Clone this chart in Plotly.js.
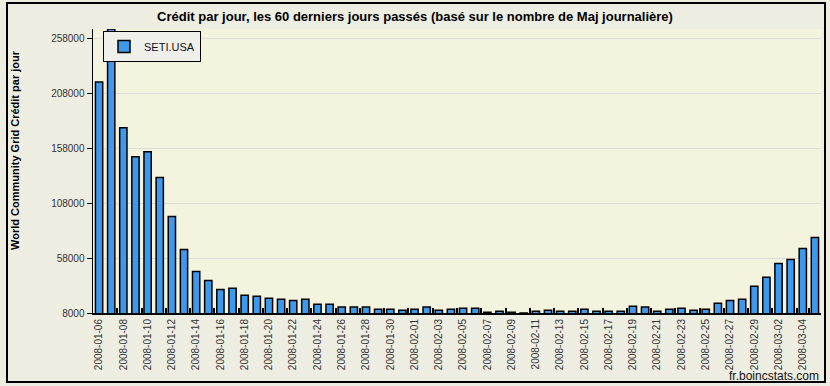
<!DOCTYPE html>
<html>
<head>
<meta charset="utf-8">
<script src="https://cdn.plot.ly/plotly-3.0.1.min.js"></script>
<style>
  html, body { margin: 0; padding: 0; background: #eeede2; }
  #chart { width: 830px; height: 386px; }
</style>
</head>
<body>
<div id="chart"></div>
<script>
// Data
const dates = [
  "2008-01-06","2008-01-07","2008-01-08","2008-01-09","2008-01-10","2008-01-11","2008-01-12","2008-01-13",
  "2008-01-14","2008-01-15","2008-01-16","2008-01-17","2008-01-18","2008-01-19","2008-01-20","2008-01-21",
  "2008-01-22","2008-01-23","2008-01-24","2008-01-25","2008-01-26","2008-01-27","2008-01-28","2008-01-29",
  "2008-01-30","2008-01-31","2008-02-01","2008-02-02","2008-02-03","2008-02-04","2008-02-05","2008-02-06",
  "2008-02-07","2008-02-08","2008-02-09","2008-02-10","2008-02-11","2008-02-12","2008-02-13","2008-02-14",
  "2008-02-15","2008-02-16","2008-02-17","2008-02-18","2008-02-19","2008-02-20","2008-02-21","2008-02-22",
  "2008-02-23","2008-02-24","2008-02-25","2008-02-26","2008-02-27","2008-02-28","2008-02-29","2008-03-01",
  "2008-03-02","2008-03-03","2008-03-04","2008-03-05"
];
const credits = [
  218600, 266800, 176800, 150400, 155000, 131400, 95900, 65900,
  45900, 37700, 29500, 30500, 24100, 23200, 21400, 20500,
  19500, 20500, 15900, 15900, 13400, 13400, 13400, 11400,
  11400, 10500, 11400, 13400, 10500, 11400, 12300, 12300,
  8600, 9500, 8600, 8000, 9500, 10500, 9500, 9500,
  11400, 9500, 9500, 9500, 14100, 13400, 9500, 11400,
  12300, 10500, 11400, 16800, 19500, 20500, 32300, 40500,
  53200, 56800, 66800, 76800
];
const xTickLabels = [
  "2008-01-06","2008-01-08","2008-01-10","2008-01-12","2008-01-14","2008-01-16","2008-01-18","2008-01-20",
  "2008-01-22","2008-01-24","2008-01-26","2008-01-28","2008-01-30","2008-02-01","2008-02-03","2008-02-05",
  "2008-02-07","2008-02-09","2008-02-11","2008-02-13","2008-02-15","2008-02-17","2008-02-19","2008-02-21",
  "2008-02-23","2008-02-25","2008-02-27","2008-02-29","2008-03-02","2008-03-04"
];
const yTickVals = [8000, 58000, 108000, 158000, 208000, 258000];
const seriesName = "SETI.USA";

const font = "Liberation Sans, Arial, sans-serif";

const trace = {
  type: "bar",
  x: dates,
  y: credits,
  base: 0,
  name: seriesName,
  showlegend: true,
  marker: {
    color: "#3d99ee",
    line: { color: "#000000", width: 1.5 }
  },
  hoverinfo: "x+y"
};

const layout = {
  width: 830,
  height: 386,
  margin: { l: 93, r: 9, t: 29, b: 73 },
  paper_bgcolor: "#eeede2",
  plot_bgcolor: "#f4f4de",
  font: { family: font, size: 10, color: "#333333" },
  title: {
    text: "Crédit par jour, les 60 derniers jours passés (basé sur le nombre de Maj journalière)",
    font: { family: font, size: 13, color: "#000000", weight: "bold" },
    x: 0.5, xanchor: "center",
    y: 1 - 16 / 386, yanchor: "middle", yref: "container"
  },
  bargap: 0.4,
  xaxis: {
    type: "category",
    tickmode: "array",
    tickvals: xTickLabels,
    ticktext: xTickLabels,
    tickangle: -90,
    tickson: "boundaries",
    ticks: "inside",
    ticklen: 5,
    tickwidth: 2,
    tickcolor: "#000000",
    showline: true,
    linecolor: "#000000",
    linewidth: 2,
    showgrid: false,
    zeroline: false,
    tickfont: { family: font, size: 10, color: "#333333" },
    range: [-0.5, dates.length - 0.5],
    fixedrange: true
  },
  yaxis: {
    range: [8000, 266800],
    tickmode: "array",
    tickvals: yTickVals,
    ticktext: yTickVals.map(String),
    ticks: "outside",
    ticklen: 5,
    tickcolor: "#000000",
    showline: true,
    linecolor: "#000000",
    linewidth: 1.5,
    showgrid: true,
    gridcolor: "#dcdcd6",
    gridwidth: 1.2,
    zeroline: false,
    tickfont: { family: font, size: 10, color: "#333333" },
    fixedrange: true
  },
  legend: {
    x: 10 / 728, y: (313 - 31) / 284,
    xanchor: "left", yanchor: "top",
    bgcolor: "#f0f0ea",
    bordercolor: "#000000",
    borderwidth: 1,
    font: { family: font, size: 11, color: "#111111" },
    itemwidth: 30
  },
  annotations: [
    {
      text: "<b>World Community Grid Crédit par jour</b>",
      xref: "paper", yref: "paper",
      x: (15 - 93) / 728, y: (313 - 150) / 284,
      xanchor: "center", yanchor: "middle",
      textangle: -90, showarrow: false,
      font: { family: font, size: 11, color: "#000000" }
    },
    {
      text: "fr.boincstats.com",
      xref: "paper", yref: "paper",
      x: (821 - 93) / 728, y: (313 - 376) / 284,
      xanchor: "right", yanchor: "middle",
      showarrow: false,
      font: { family: font, size: 12, color: "#111111" }
    }
  ],
  shapes: [
    {
      type: "rect", xref: "paper", yref: "paper",
      x0: (7 - 93) / 728, x1: (825 - 93) / 728,
      y0: (313 - 382) / 284, y1: (313 - 3) / 284,
      line: { color: "#000000", width: 2 },
      fillcolor: "rgba(0,0,0,0)",
      layer: "above"
    }
  ]
};

Plotly.newPlot("chart", [trace], layout, { displayModeBar: false, staticPlot: true });
</script>
</body>
</html>
